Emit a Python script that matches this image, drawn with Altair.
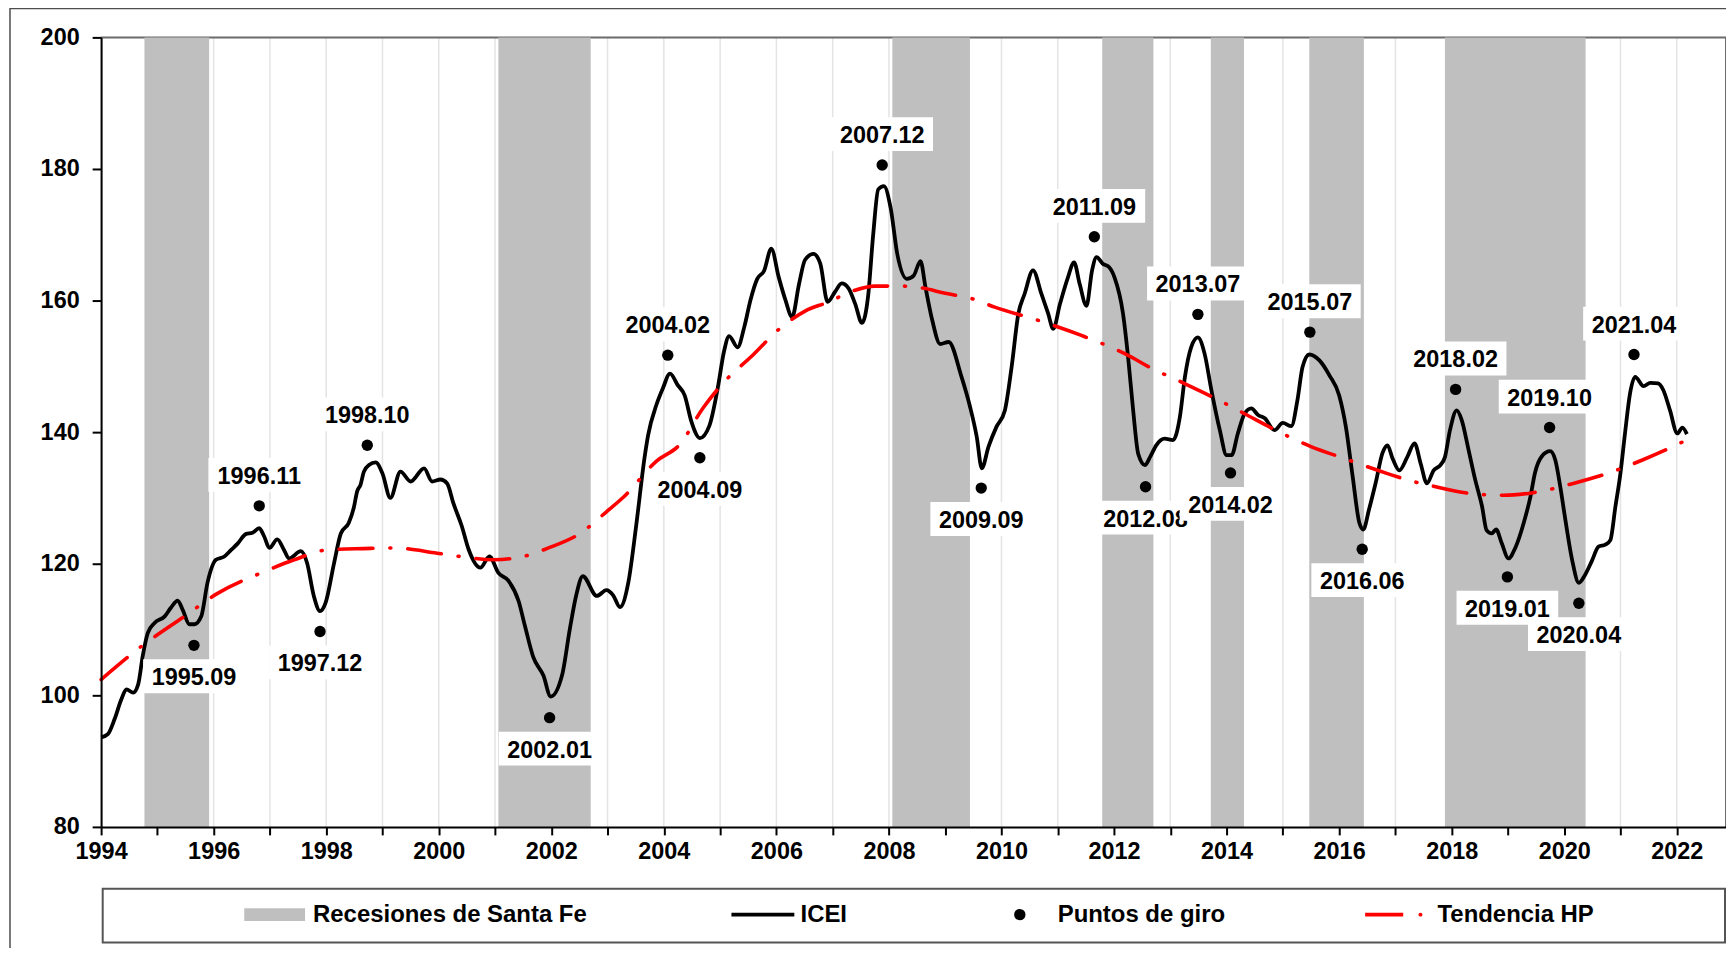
import altair as alt
import pandas as pd

# ---------------- datos ----------------
icei_anio = [
    1994.00, 1994.12, 1994.24, 1994.36, 1994.45, 1994.57, 1994.66, 1994.74, 1994.83, 1994.95,
    1995.13, 1995.24, 1995.36, 1995.45, 1995.57, 1995.66, 1995.78, 1995.89,
    1996.04, 1996.19, 1996.31, 1996.43, 1996.57, 1996.69, 1996.81, 1996.90, 1996.99,
    1997.13, 1997.25, 1997.34, 1997.55, 1997.66, 1997.78, 1997.89, 1997.99,
    1998.14, 1998.26, 1998.40, 1998.49, 1998.55, 1998.61, 1998.67, 1998.76, 1998.88,
    1999.00, 1999.14, 1999.32, 1999.50, 1999.74, 1999.88,
    2000.03, 2000.15, 2000.26, 2000.41, 2000.53, 2000.74, 2000.90,
    2001.06, 2001.24, 2001.42, 2001.53, 2001.68, 2001.86, 2001.99,
    2002.19, 2002.33, 2002.44, 2002.56, 2002.81, 2002.98,
    2003.10, 2003.22, 2003.37, 2003.51, 2003.66, 2003.72, 2003.87, 2003.98,
    2004.11, 2004.25, 2004.37, 2004.49, 2004.64, 2004.81, 2004.96,
    2005.07, 2005.16, 2005.31, 2005.43, 2005.54, 2005.66, 2005.78, 2005.91,
    2006.04, 2006.16, 2006.28, 2006.40, 2006.51, 2006.66, 2006.78, 2006.91,
    2007.04, 2007.16, 2007.28, 2007.40, 2007.52, 2007.63, 2007.72, 2007.81, 2007.91,
    2008.03, 2008.15, 2008.32, 2008.44, 2008.56, 2008.65, 2008.77, 2008.91,
    2009.06, 2009.29, 2009.44, 2009.56, 2009.65, 2009.77, 2009.91,
    2010.06, 2010.18, 2010.30, 2010.41, 2010.56, 2010.71, 2010.83, 2010.92,
    2011.04, 2011.18, 2011.29, 2011.39, 2011.51, 2011.61, 2011.69, 2011.80, 2011.91,
    2012.01, 2012.16, 2012.25, 2012.34, 2012.43, 2012.55, 2012.64, 2012.75, 2012.90,
    2013.05, 2013.17, 2013.26, 2013.37, 2013.49, 2013.61, 2013.73, 2013.88,
    2014.00, 2014.09, 2014.20, 2014.32, 2014.44, 2014.56, 2014.68, 2014.85,
    2015.00, 2015.15, 2015.26, 2015.35, 2015.47, 2015.65, 2015.83,
    2016.00, 2016.12, 2016.24, 2016.36, 2016.43, 2016.53, 2016.65, 2016.77, 2016.86, 2016.95,
    2017.07, 2017.21, 2017.34, 2017.45, 2017.56, 2017.68, 2017.80, 2017.88, 2017.97,
    2018.09, 2018.18, 2018.30, 2018.42, 2018.54, 2018.62, 2018.71, 2018.79, 2018.89,
    2019.01, 2019.13, 2019.28, 2019.40, 2019.48, 2019.60, 2019.75, 2019.84, 2019.93,
    2020.02, 2020.14, 2020.26, 2020.37, 2020.49, 2020.61, 2020.73, 2020.82, 2020.91,
    2021.00, 2021.08, 2021.17, 2021.26, 2021.41, 2021.53, 2021.67, 2021.76, 2021.88,
    2022.01, 2022.10, 2022.18,
]
icei_valor = [
    93.6, 94.1, 96.4, 99.4, 100.9, 100.4, 101.7, 106.0, 109.5, 111.0,
    112.0, 113.3, 114.4, 113.0, 110.8, 110.8, 112.0, 117.1,
    120.6, 121.1, 122.1, 123.1, 124.5, 124.7, 125.4, 124.1, 122.4,
    123.7, 122.1, 120.8, 121.9, 120.1, 115.1, 112.8, 114.1,
    120.1, 124.6, 126.2, 128.5, 131.0, 132.0, 134.0, 135.0, 135.4,
    133.7, 130.0, 134.0, 132.5, 134.5, 132.5,
    132.8, 132.2, 129.2, 125.7, 122.2, 119.4, 121.1,
    118.6, 117.4, 114.3, 110.6, 105.8, 103.0, 99.8,
    103.0, 110.1, 115.1, 118.1, 115.1, 116.0,
    115.2, 113.4, 117.2, 125.9, 136.3, 139.5, 144.2, 146.6,
    148.9, 147.1, 145.6, 141.6, 139.1, 141.0, 146.8,
    152.3, 154.6, 152.9, 156.0, 160.1, 163.3, 164.5, 167.9,
    163.6, 160.1, 157.5, 162.4, 166.2, 167.1, 165.6, 159.8,
    161.3, 162.6, 161.9, 159.5, 156.6, 160.7, 170.0, 176.9, 177.4,
    174.1, 167.0, 163.3, 163.8, 166.0, 162.0, 157.0, 153.4,
    153.7, 148.4, 143.9, 139.3, 134.5, 137.8, 140.8,
    143.3, 149.9, 158.0, 161.0, 164.6, 161.0, 158.0, 155.7,
    159.5, 163.5, 165.8, 162.5, 159.2, 164.6, 166.6, 165.6, 165.1,
    163.5, 158.0, 151.4, 143.3, 136.7, 135.0, 136.2, 138.0, 139.0,
    138.8, 142.3, 148.4, 152.9, 154.4, 151.9, 146.4, 140.3,
    136.5, 136.5, 139.8, 142.8, 143.6, 142.6, 142.1, 140.3,
    141.4, 140.9, 144.9, 149.9, 151.8, 150.9, 148.6,
    145.6, 140.8, 133.3, 126.2, 125.2, 128.2, 132.3, 136.8, 138.0, 136.0,
    134.2, 136.2, 138.3, 135.2, 132.2, 134.2, 135.0, 136.2, 140.3,
    143.3, 141.8, 137.3, 132.7, 128.7, 125.1, 124.6, 125.2, 123.1,
    120.8, 122.4, 126.2, 130.2, 133.8, 136.3, 137.1, 135.8, 131.7,
    126.7, 120.6, 117.1, 118.3, 120.4, 122.6, 122.9, 123.6, 128.7,
    133.8, 139.8, 145.9, 148.4, 147.0, 147.5, 147.4, 146.4, 143.3,
    139.8, 140.7, 139.7,
]

hp_anio = [
    1994.00, 1994.71, 1995.48, 1996.07, 1996.90, 1997.43, 1998.02, 1998.67, 1999.20, 1999.97,
    2000.38, 2000.97, 2001.45, 2001.95, 2002.51, 2002.98, 2003.28, 2003.87, 2004.28, 2004.70,
    2005.10, 2005.57, 2006.04, 2006.51, 2006.93, 2007.34, 2007.75, 2008.20, 2008.60, 2009.00,
    2009.47, 2009.88, 2010.65, 2011.42, 2012.31, 2012.60, 2013.20, 2013.76, 2014.32, 2014.85,
    2015.50, 2016.09, 2016.86, 2017.27, 2017.62, 2018.15, 2018.92, 2019.45, 2020.16, 2020.69,
    2021.40, 2021.93, 2022.10,
]
hp_valor = [
    102.4, 107.4, 112.0, 115.5, 118.8, 120.6, 122.1, 122.3, 122.4, 121.6,
    121.1, 120.6, 121.0, 122.4, 124.6, 127.9, 130.1, 135.6, 138.1, 143.7,
    147.9, 151.6, 155.6, 158.4, 159.8, 161.4, 162.2, 162.2, 161.9, 161.1,
    160.3, 159.0, 157.0, 154.7, 151.4, 150.0, 147.6, 145.3, 142.8, 140.4,
    137.8, 136.0, 133.7, 132.6, 131.9, 130.9, 130.4, 130.8, 132.2, 133.5,
    135.8, 137.8, 138.5,
]

recesion_inicio = [1994.77, 2001.06, 2008.06, 2011.79, 2013.72, 2015.47, 2017.88]
recesion_fin = [1995.92, 2002.70, 2009.44, 2012.70, 2014.31, 2016.44, 2020.38]

giro_etiqueta = ["1995.09", "1996.11", "1997.12", "1998.10", "2002.01", "2004.02", "2004.09",
                 "2007.12", "2009.09", "2011.09", "2012.08", "2013.07", "2014.02", "2015.07",
                 "2016.06", "2018.02", "2019.01", "2019.10", "2020.04", "2021.04"]
giro_anio = [1995.65, 1996.81, 1997.89, 1998.73, 2001.97, 2004.07, 2004.64,
             2007.88, 2009.64, 2011.65, 2012.56, 2013.49, 2014.07, 2015.48,
             2016.41, 2018.07, 2018.99, 2019.74, 2020.26, 2021.24]
giro_valor = [107.6, 128.8, 109.7, 138.0, 96.6, 151.7, 136.1,
              180.6, 131.5, 169.7, 131.7, 157.9, 133.8, 155.2,
              122.2, 146.5, 118.0, 140.7, 114.0, 151.8]
giro_tipo = ["valle", "pico", "valle", "pico", "valle", "pico", "valle",
             "pico", "valle", "pico", "valle", "pico", "valle", "pico",
             "valle", "pico", "valle", "pico", "valle", "pico"]

anios_eje = list(range(1994, 2023))
valores_eje_y = [80, 100, 120, 140, 160, 180, 200]
leyenda_textos = ["Recesiones de Santa Fe", "ICEI", "Puntos de giro", "Tendencia HP"]

# ---------------- layout / estilo ----------------
W, H = 1630, 792
X_MIN, X_MAX = 1994, 2022.875
FONT = "Liberation Sans"
GRIS_REC = "#bfbfbf"
ROJO = "#ff0000"
LEG_Y = 880
leyenda_x = [212.6, 701.6, 959.6, 1340.6]

x_scale = alt.Scale(domain=[X_MIN, X_MAX], nice=False, zero=False)
y_scale = alt.Scale(domain=[80, 200], nice=False, zero=False)

x_axis = alt.Axis(
    values=anios_eje, format="d",
    labelExpr="datum.value % 2 == 0 ? datum.label : ''",
    grid=False, domainColor="black", domainWidth=2,
    tickColor="black", tickWidth=2, tickSize=8,
    labelFont=FONT, labelFontSize=23.5, labelFontWeight="bold", labelColor="black",
    labelPadding=5, labelFlush=False, labelOverlap=False, title=None, zindex=1,
)
y_axis = alt.Axis(
    values=valores_eje_y, grid=False, domainColor="black", domainWidth=2,
    tickColor="black", tickWidth=2, tickSize=9,
    labelFont=FONT, labelFontSize=23.5, labelFontWeight="bold", labelColor="black",
    labelPadding=13, labelFlush=False, labelOverlap=False, title=None, zindex=1,
)


def X(f):
    return alt.X(f, type="quantitative", scale=x_scale, axis=x_axis)


def Y(f):
    return alt.Y(f, type="quantitative", scale=y_scale, axis=y_axis)


df_icei = pd.DataFrame({"anio": icei_anio, "valor": icei_valor})
df_hp = pd.DataFrame({"anio": hp_anio, "valor": hp_valor})
df_rec = pd.DataFrame({"inicio": recesion_inicio, "fin": recesion_fin})
df_giro = pd.DataFrame({"anio": giro_anio, "valor": giro_valor, "etiqueta": giro_etiqueta})
df_grid = pd.DataFrame({"anio": anios_eje})
dummy = pd.DataFrame({"k": [0]})

layers = []

# marco exterior
layers.append(alt.Chart(dummy).mark_rect(fill="white", fillOpacity=0, stroke="#4d4d4d", strokeWidth=1.5).encode(
    x=alt.value(-91.4), x2=alt.value(W + 40), y=alt.value(-29), y2=alt.value(H + 250)))

# cuadrícula vertical
layers.append(alt.Chart(df_grid).mark_rule(color="#e4e4e4", strokeWidth=1.5).encode(x=X("anio")))

# borde superior y derecho del área
layers.append(alt.Chart(dummy).mark_rule(color="#6b6b6b", strokeWidth=2).encode(
    x=alt.value(0), x2=alt.value(W), y=alt.value(0)))
layers.append(alt.Chart(dummy).mark_rule(color="#6b6b6b", strokeWidth=2).encode(
    x=alt.value(W), y=alt.value(0), y2=alt.value(H)))

# recesiones
layers.append(alt.Chart(df_rec).mark_rect(color=GRIS_REC).encode(
    x=X("inicio"), x2="fin", y=alt.value(0), y2=alt.value(H)))

# ICEI
layers.append(alt.Chart(df_icei).mark_line(color="black", strokeWidth=3.8, interpolate="monotone",
                                           strokeJoin="round").encode(x=X("anio"), y=Y("valor")))

# Tendencia HP
layers.append(alt.Chart(df_hp).mark_line(color=ROJO, strokeWidth=3.6, interpolate="monotone",
                                         strokeDash=[34, 17, 1, 17], strokeCap="round").encode(
    x=X("anio"), y=Y("valor")))

# puntos de giro
layers.append(alt.Chart(df_giro).mark_point(filled=True, color="black", size=130, opacity=1).encode(
    x=X("anio"), y=Y("valor")))

# etiquetas con caja blanca (en orden, cada una tapa a la anterior)
BOX = "M-1,-0.333H1V0.333H-1Z"
for lab, a, v, t in zip(giro_etiqueta, giro_anio, giro_valor, giro_tipo):
    d = pd.DataFrame({"anio": [a], "valor": [v], "etiqueta": [lab]})
    dy = -29 if t == "pico" else 33
    layers.append(alt.Chart(d).mark_point(shape=BOX, size=102 * 102, filled=True, color="white",
                                          opacity=1, yOffset=dy - 2).encode(x=X("anio"), y=Y("valor")))
    layers.append(alt.Chart(d).mark_text(dy=dy, font=FONT, fontSize=23.5, fontWeight="bold",
                                         color="black").encode(x=X("anio"), y=Y("valor"),
                                                               text="etiqueta:N"))

# leyenda
layers.append(alt.Chart(dummy).mark_rect(fill="white", stroke="#555555", strokeWidth=2).encode(
    x=alt.value(1.6), x2=alt.value(W - 1), y=alt.value(854), y2=alt.value(908)))
layers.append(alt.Chart(dummy).mark_rect(color=GRIS_REC).encode(
    x=alt.value(143.6), x2=alt.value(204.6), y=alt.value(LEG_Y - 6.5), y2=alt.value(LEG_Y + 6.5)))
layers.append(alt.Chart(dummy).mark_rule(color="black", strokeWidth=4).encode(
    x=alt.value(632.3), x2=alt.value(695.4), y=alt.value(LEG_Y)))
layers.append(alt.Chart(dummy).mark_point(filled=True, color="black", size=130, opacity=1).encode(
    x=alt.value(921.6), y=alt.value(LEG_Y)))
layers.append(alt.Chart(dummy).mark_rule(color=ROJO, strokeWidth=3.6).encode(
    x=alt.value(1268.0), x2=alt.value(1306.2), y=alt.value(LEG_Y)))
layers.append(alt.Chart(dummy).mark_point(filled=True, color=ROJO, size=16, opacity=1).encode(
    x=alt.value(1323.5), y=alt.value(LEG_Y)))
for txt, px in zip(leyenda_textos, leyenda_x):
    layers.append(alt.Chart(dummy).mark_text(text=txt, align="left", baseline="middle", font=FONT,
                                             fontSize=24, fontWeight="bold", color="black").encode(
        x=alt.value(px), y=alt.value(LEG_Y)))

chart = alt.layer(*layers).properties(
    width=W, height=H,
    padding={"left": 93.4, "top": 28, "right": 0, "bottom": 120},
    autosize=alt.AutoSizeParams(type="none"),
    background="white",
).configure_view(strokeWidth=0)

chart.save("out.html", embed_options={"renderer": "svg", "actions": False})
